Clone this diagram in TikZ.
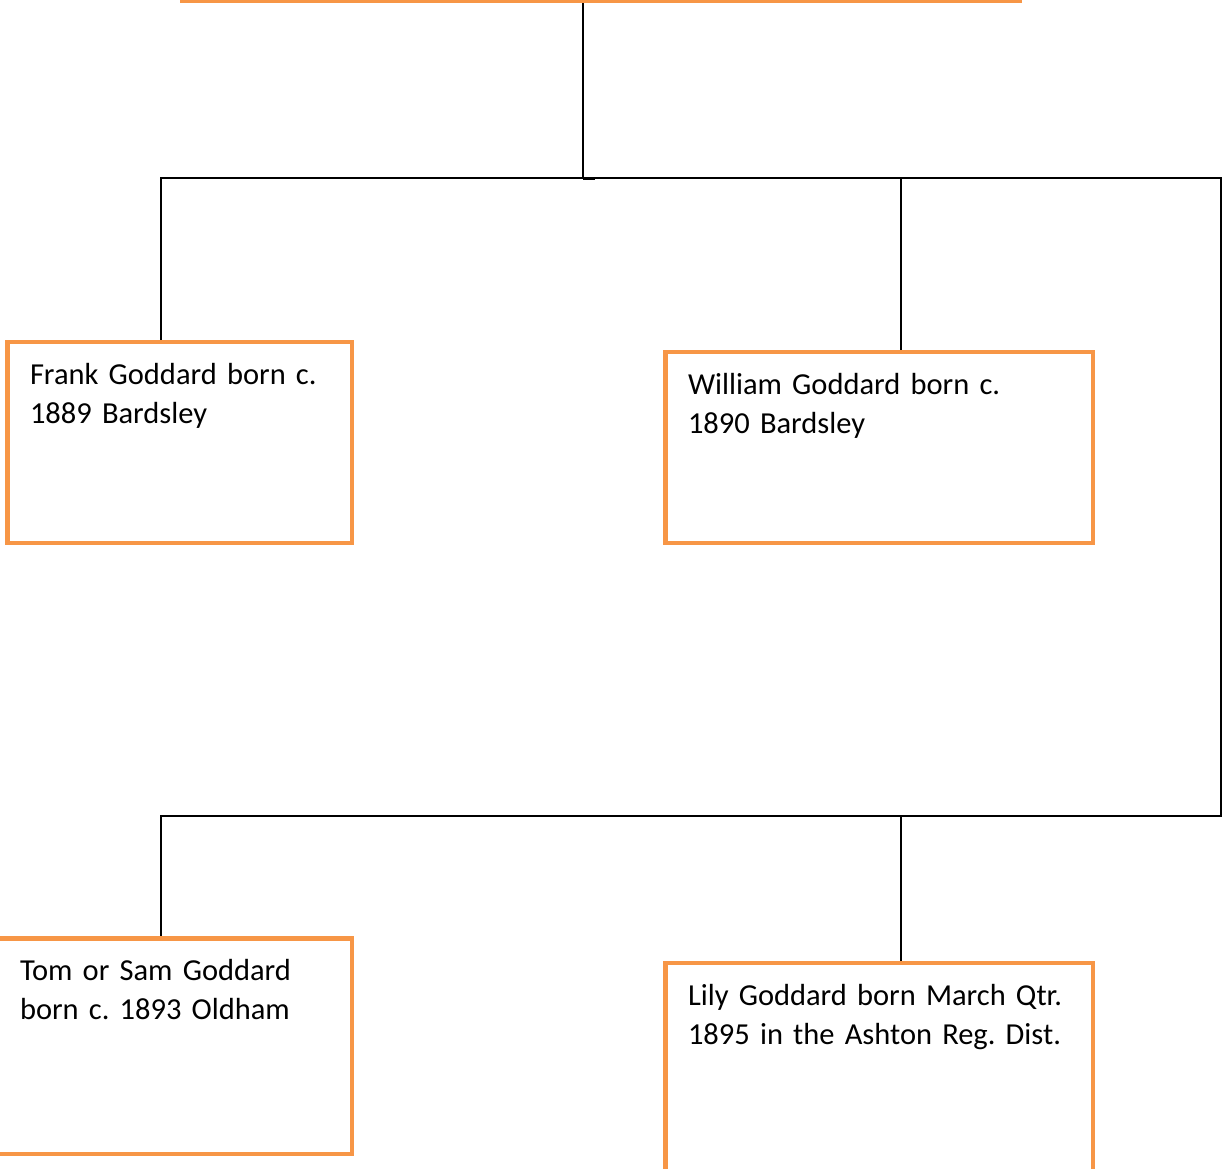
\documentclass[tikz,border=0pt]{standalone}
\usepackage{fontspec}
\setmainfont{Carlito}
\definecolor{boxorange}{HTML}{F79646}

\begin{document}
\frenchspacing
\begin{tikzpicture}[
    x=1pt, y=-1pt, % one unit per pixel, y going down
    person/.style={draw=boxorange, line width=4.5pt, fill=white, anchor=north west,
        inner xsep=22.5pt, inner ysep=14pt, text height=28pt, align=left,
        font=\fontsize{30.5}{39}\selectfont}, % orange box of a child
    link/.style={draw=black, line width=1.6pt} % tree line
    ]

    % Page frame
    \useasboundingbox (0,0) rectangle (1222,1168);
    \clip (0,0) rectangle (1222,1168);

    % Parent box (only its lower edge is seen)
    \node[person, anchor=south west, minimum width=837.5pt, minimum height=120pt] (parent) at (180,3) {};

    % First row of children
    \node[person, text width=299.5pt, text depth=145pt] (frank) at (5.25,339.75)
        {Frank Goddard born c.\\1889 Bardsley};
    \node[person, text width=382.5pt, text depth=135pt] (william) at (663.25,349.75)
        {William Goddard born c.\\1890 Bardsley};

    % Second row of children
    \node[person, text width=309.5pt, text depth=159.5pt] (tom) at (-4.75,936.25)
        {Tom or Sam Goddard\\born c. 1893 Oldham};
    \node[person, text width=382.5pt, text depth=154pt] (lily) at (663.25,960.75)
        {Lily Goddard born March Qtr.\\1895 in the Ashton Reg. Dist.};

    % Junction points
    \coordinate (top) at (583,178);
    \coordinate (j1) at (161,178);
    \coordinate (j2) at (901,178);
    \coordinate (j3) at (1221,178);
    \coordinate (k1) at (161,816);
    \coordinate (k2) at (901,816);
    \coordinate (k3) at (1221,816);

    % Lines of the tree
    \draw[link] (top |- parent.south) -- (top);
    \draw[link, line width=1.2pt] (top) ++(0,1) -- ++(12,0);
    \draw[link] (j1 |- frank.north) -- (j1) -- (j3) -- (k3) -- (k1) -- (k1 |- tom.north);
    \draw[link] (j2) -- (j2 |- william.north);
    \draw[link] (k2) -- (k2 |- lily.north);

\end{tikzpicture}
\end{document}
